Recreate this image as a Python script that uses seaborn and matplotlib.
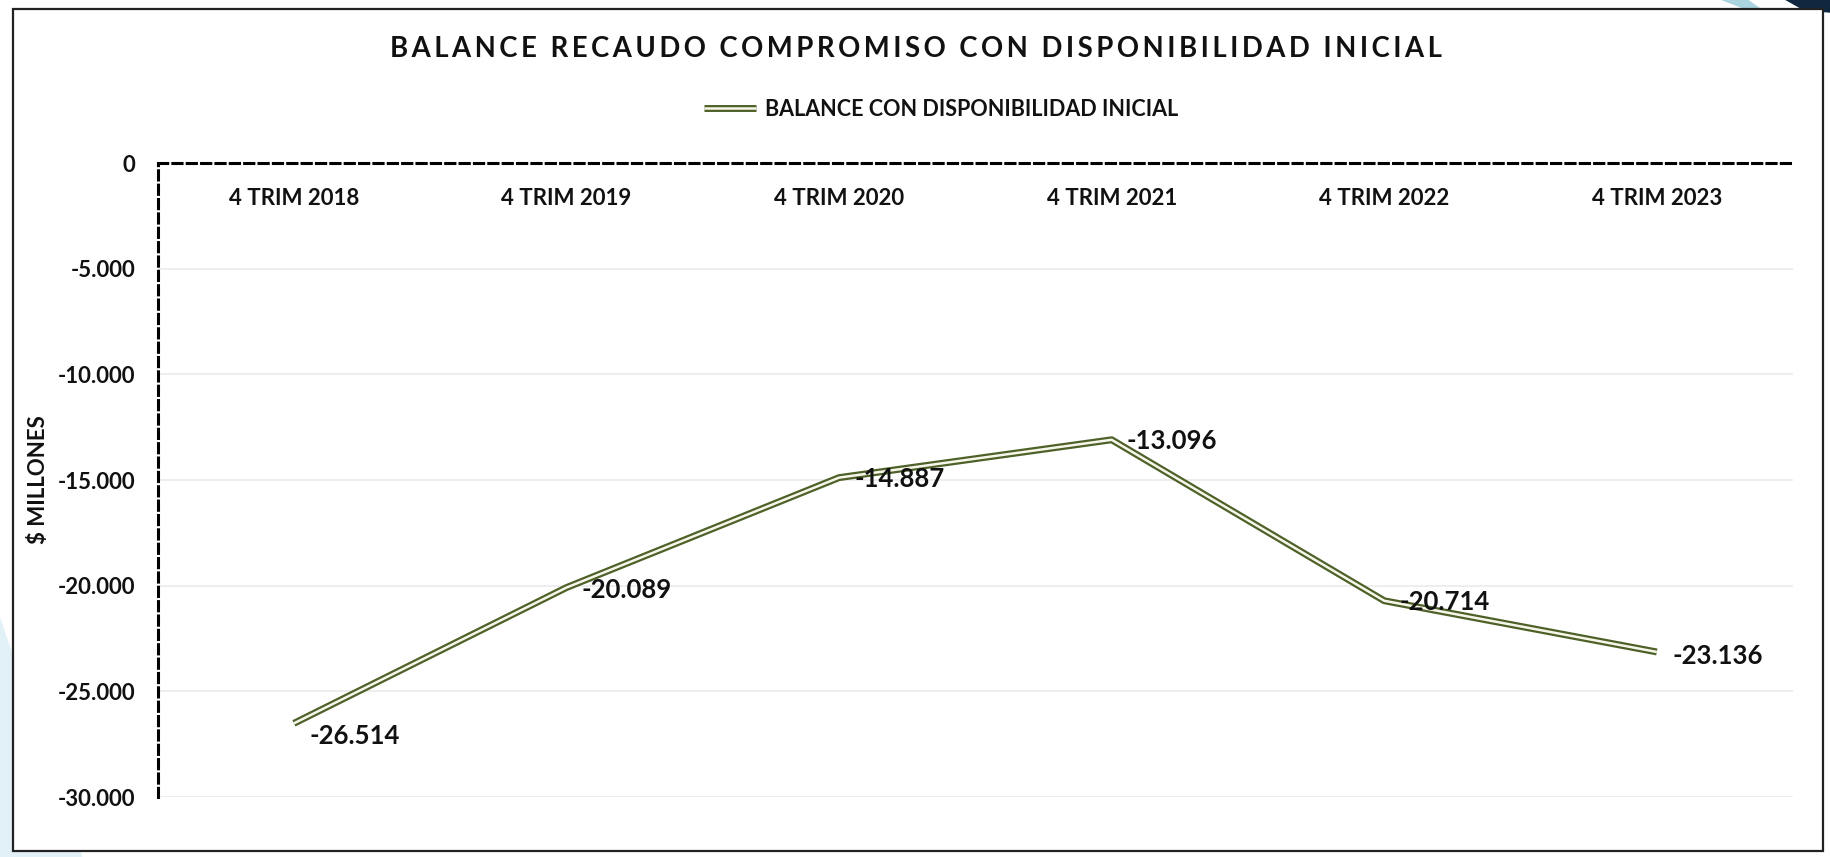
import matplotlib
matplotlib.use('Agg')

import matplotlib.pyplot as plt
import matplotlib.patheffects as pe
from matplotlib.patches import Rectangle, Polygon
import pandas as pd
import seaborn as sns

sns.set_theme(style="white")
plt.rcParams['font.family'] = ['Lato', 'DejaVu Sans']

# data
periodos = ['4 TRIM 2018', '4 TRIM 2019', '4 TRIM 2020', '4 TRIM 2021', '4 TRIM 2022', '4 TRIM 2023']
balance = [-26514, -20089, -14887, -13096, -20714, -23136]
etiquetas = ['-26.514', '-20.089', '-14.887', '-13.096', '-20.714', '-23.136']
yticks = [0, -5000, -10000, -15000, -20000, -25000, -30000]
ytick_labels = ['0', '-5.000', '-10.000', '-15.000', '-20.000', '-25.000', '-30.000']
serie = 'BALANCE CON DISPONIBILIDAD INICIAL'

df = pd.DataFrame({'periodo': periodos, 'balance': balance})
df['x'] = range(len(df))

fig = plt.figure(figsize=(18.31, 8.57), dpi=100, facecolor='white')

# decoration outside the frame
fig.patches.append(Polygon([[0, 0], [0.045, 0], [0.0, 0.28]], closed=True,
                           transform=fig.transFigure, facecolor='#e2f1f7', edgecolor='none', zorder=-3))
fig.patches.append(Polygon([[0.94, 1.0], [0.955, 1.0], [0.965, 0.985], [0.958, 0.985]], closed=True,
                           transform=fig.transFigure, facecolor='#a9d4e0', edgecolor='none', zorder=-3))
fig.patches.append(Polygon([[0.975, 1.0], [1.0, 1.0], [1.0, 0.985], [0.985, 0.988]], closed=True,
                           transform=fig.transFigure, facecolor='#10283f', edgecolor='none', zorder=-3))
# chart frame
fig.patches.append(Rectangle((13 / 1831, 1 - 851 / 857), (1823 - 13) / 1831, (851 - 9) / 857,
                             transform=fig.transFigure, facecolor='white', edgecolor='#222222',
                             linewidth=1.6, zorder=-2))

ax = fig.add_axes([0.0861, 0.070, 0.8932, 0.7398])
ax.set_facecolor('none')

sns.lineplot(data=df, x='x', y='balance', ax=ax, color='#f6f7ea', linewidth=1.8,
             label=serie, zorder=5, solid_capstyle='butt',
             path_effects=[pe.Stroke(linewidth=5.0, foreground='#4e6128'), pe.Normal()])

for xi, yi, txt, dy in zip(df['x'], df['balance'], etiquetas, [-9, -2, -1, -1, -1, -3]):
    ax.annotate(txt, (xi, yi), xytext=(11, dy), textcoords='offset points',
                ha='left', va='center', fontsize=18.5, fontweight='bold', color='#111111', zorder=6)

ax.set_xlim(-0.5, 5.5)
ax.set_ylim(-30000, 0)
ax.set_yticks(yticks)
ax.set_yticklabels(ytick_labels)
ax.set_xticks(df['x'])
ax.set_xticklabels(periodos)
ax.grid(axis='y', color='#ebebeb', linewidth=1.2)
ax.set_axisbelow(True)

ax.tick_params(axis='y', length=0, pad=16, labelsize=16, labelcolor='#111111')
ax.tick_params(axis='x', length=0, pad=-33, labelsize=16, labelcolor='#111111',
               labeltop=True, labelbottom=False)
for lab in ax.get_yticklabels() + ax.get_xticklabels():
    lab.set_fontweight('bold')

for s in ['right', 'bottom']:
    ax.spines[s].set_visible(False)
for s in ['top', 'left']:
    ax.spines[s].set_color('black')
    ax.spines[s].set_linewidth(2.2)
    ax.spines[s].set_linestyle((0, (3, 1.7)))

ax.set_xlabel('')
ax.set_ylabel('$ MILLONES', fontsize=16, fontweight='bold', color='#111111', labelpad=6)

titulo = 'BALANCE RECAUDO COMPROMISO CON DISPONIBILIDAD INICIAL'
titulo_esp = '\u2009'.join(titulo)
fig.text(0.5, 1 - 49 / 857, titulo_esp, ha='center', va='center', fontsize=19.8,
         fontweight='bold', color='#111111', family=['Lato', 'DejaVu Sans'])

leg = ax.legend(loc='center', bbox_to_anchor=(0.514, 1 - 109 / 857), bbox_transform=fig.transFigure,
                frameon=False, fontsize=15.5, handlelength=2.4, handletextpad=0.4)
for t in leg.get_texts():
    t.set_fontweight('bold')
    t.set_color('#111111')

fig.savefig('out.png', dpi=100, facecolor='white')
